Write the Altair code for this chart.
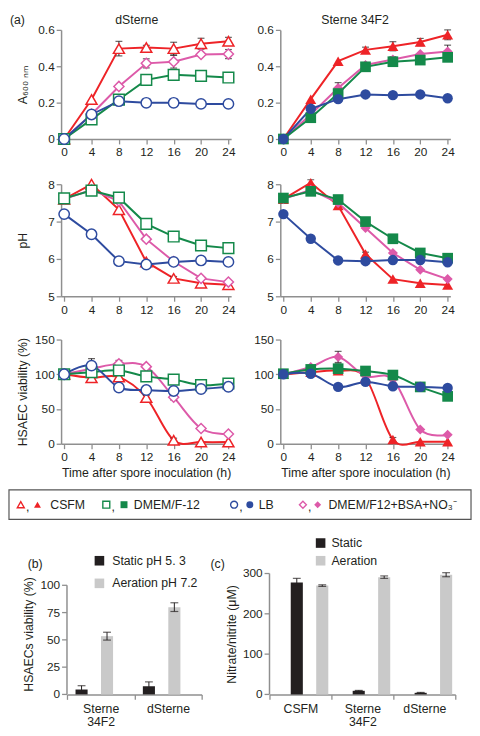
import altair as alt
import pandas as pd

FONT = "Liberation Sans"
INK = "#231f20"
AXIS_GREY = "#8f8f8f"

# ---------------- data ----------------
hours = [0, 4, 8, 12, 16, 20, 24]
media = ["CSFM", "DMEM/F-12", "LB", "DMEM/F12+BSA+NO₃⁻"]
media_colors = ["#ee2327", "#14894a", "#2e4b9f", "#dd5aa9"]
media_shapes = ["triangle-up", "square", "circle", "diamond"]
draw_order = ["CSFM", "DMEM/F12+BSA+NO₃⁻", "DMEM/F-12", "LB"]

# A600, dSterne
d_a600_csfm = [0, 0.217, 0.497, 0.503, 0.497, 0.524, 0.537]
d_a600_dmem = [0, 0.108, 0.217, 0.325, 0.353, 0.347, 0.338]
d_a600_lb = [0, 0.135, 0.208, 0.199, 0.199, 0.193, 0.193]
d_a600_bsa = [0, 0.136, 0.289, 0.416, 0.425, 0.465, 0.467]
d_a600_csfm_err = [0, 0, 0.04, 0.012, 0.035, 0.03, 0.022]
d_a600_dmem_err = [0, 0, 0, 0, 0, 0.025, 0]
d_a600_lb_err = [0, 0, 0, 0, 0, 0, 0]
d_a600_bsa_err = [0, 0, 0, 0.025, 0.035, 0, 0.025]

# A600, Sterne 34F2
s_a600_csfm = [0, 0.219, 0.428, 0.49, 0.51, 0.533, 0.573]
s_a600_dmem = [0, 0.117, 0.25, 0.397, 0.425, 0.434, 0.449]
s_a600_lb = [0, 0.166, 0.219, 0.245, 0.241, 0.245, 0.224]
s_a600_bsa = [0, 0.135, 0.28, 0.407, 0.437, 0.467, 0.481]
s_a600_csfm_err = [0, 0, 0, 0.015, 0.025, 0.02, 0.027]
s_a600_dmem_err = [0, 0, 0, 0.02, 0, 0, 0]
s_a600_lb_err = [0, 0, 0, 0, 0, 0, 0]
s_a600_bsa_err = [0, 0, 0.03, 0, 0.015, 0, 0.035]

# pH, dSterne
d_ph_csfm = [7.6, 8.0, 7.32, 5.92, 5.48, 5.35, 5.31]
d_ph_dmem = [7.62, 7.83, 7.64, 6.94, 6.6, 6.36, 6.29]
d_ph_lb = [7.2, 6.66, 5.94, 5.85, 5.92, 5.96, 5.92]
d_ph_bsa = [7.6, 7.85, 7.55, 6.53, 5.93, 5.48, 5.38]
d_ph_csfm_err = [0, 0, 0, 0, 0.05, 0, 0]
d_ph_dmem_err = [0, 0, 0, 0, 0, 0, 0]
d_ph_lb_err = [0, 0, 0, 0, 0, 0, 0]
d_ph_bsa_err = [0, 0, 0, 0.06, 0, 0, 0]

# pH, Sterne 34F2
s_ph_csfm = [7.6, 8.04, 7.43, 6.13, 5.46, 5.35, 5.3]
s_ph_dmem = [7.63, 7.81, 7.59, 7.0, 6.54, 6.16, 6.02]
s_ph_lb = [7.2, 6.54, 5.96, 5.94, 5.97, 5.97, 5.91]
s_ph_bsa = [7.6, 7.85, 7.5, 6.83, 6.16, 5.71, 5.46]
s_ph_csfm_err = [0, 0.08, 0, 0.05, 0, 0, 0]
s_ph_dmem_err = [0, 0, 0, 0, 0, 0, 0]
s_ph_lb_err = [0, 0, 0, 0, 0, 0, 0]
s_ph_bsa_err = [0, 0, 0, 0, 0, 0, 0]

# HSAEC viability, dSterne
d_v_csfm = [100, 95, 96, 66.5, 5, 2.5, 2.5]
d_v_dmem = [100, 103, 105.5, 97, 92.4, 84.4, 86.7]
d_v_lb = [100, 112.5, 81, 77.3, 76, 78.8, 82]
d_v_bsa = [100, 108, 115, 111, 67, 22, 14]
d_v_csfm_err = [0, 0, 0, 3, 3, 0, 0]
d_v_dmem_err = [0, 0, 0, 0, 0, 0, 0]
d_v_lb_err = [0, 10, 0, 0, 0, 0, 0]
d_v_bsa_err = [0, 0, 5, 3, 4, 0, 0]

# HSAEC viability, Sterne 34F2
s_v_csfm = [100, 103, 105, 95, 6, 3, 3]
s_v_dmem = [100.8, 107, 108, 104.7, 98.9, 81.8, 68.2]
s_v_lb = [100, 100.8, 81.8, 89, 82.8, 81.8, 80.4]
s_v_bsa = [100, 110.6, 125, 97.4, 92.5, 20.5, 13]
s_v_csfm_err = [0, 0, 0, 0, 3, 0, 0]
s_v_dmem_err = [0, 0, 7, 0, 0, 0, 0]
s_v_lb_err = [0, 0, 0, 0, 0, 5, 0]
s_v_bsa_err = [0, 0, 8, 0, 0, 0, 0]

# (b) HSAECs viability
b_strains = ["Sterne\n34F2", "dSterne"]
b_conds = ["Static pH 5. 3", "Aeration pH 7.2"]
b_static = [4.5, 7.5]
b_aeration = [53.4, 80]
b_static_err = [3.5, 4]
b_aeration_err = [3.6, 4]
b_yticks = [0, 25, 50, 75, 100]

# (c) Nitrate/nitrite
c_cats = ["CSFM", "Sterne\n34F2", "dSterne"]
c_conds = ["Static", "Aeration"]
c_static = [278, 9, 4]
c_aeration = [270, 291, 297]
c_static_err = [10, 1, 1]
c_aeration_err = [2, 3, 5]
c_yticks = [0, 100, 200, 300]
bar_colors = ["#231f20", "#c9c9c9"]

# ---------------- helpers ----------------
XDOM = [-0.45, 24.4]
PW = 173


def make_df(vals, errs):
    rows = []
    for m in draw_order:
        i = media.index(m)
        for h, v, e in zip(hours, vals[i], errs[i]):
            rows.append(dict(hour=h, medium=m, value=v, err=e, lo=v - e, hi=v + e))
    return pd.DataFrame(rows)


def text_layer(txt, x, y, align="left", size=12.5):
    return alt.Chart(pd.DataFrame({"t": [txt]})).mark_text(
        align=align, baseline="middle", fontSize=size, color=INK, font=FONT
    ).encode(text="t:N", x=alt.value(x), y=alt.value(y))


def line_panel(vals, errs, filled, ydom, yticks, yfmt, ytitle, interp, height,
               xtitle=None, texts=()):
    df = make_df(vals, errs)
    xaxis = alt.Axis(values=hours, title=xtitle, titlePadding=4, labelPadding=3, labelOverlap=False)
    yaxis = alt.Axis(values=yticks, format=yfmt, title=ytitle, minExtent=25,
                     maxExtent=25, titlePadding=7, labelOverlap=False)

    def X(f):
        return alt.X(f"{f}:Q", scale=alt.Scale(domain=XDOM, nice=False, zero=False), axis=xaxis)

    def Y(f):
        return alt.Y(f"{f}:Q", scale=alt.Scale(domain=ydom, nice=False, zero=False), axis=yaxis)

    col = alt.Color("medium:N", scale=alt.Scale(domain=media, range=media_colors), legend=None)
    shp = alt.Shape("medium:N", scale=alt.Scale(domain=media, range=media_shapes), legend=None)
    sz = alt.Size("medium:N", scale=alt.Scale(domain=media, range=[125, 105, 115, 80]), legend=None)
    base = alt.Chart(df)
    lines = base.mark_line(strokeWidth=2, interpolate=interp).encode(x=X("hour"), y=Y("value"), color=col)
    eb = base.transform_filter("datum.err > 0")
    rule = eb.mark_rule(color=INK, strokeWidth=1).encode(x=X("hour"), y=Y("lo"), y2="hi:Q")
    cap_hi = eb.mark_tick(orient="horizontal", color=INK, size=7, thickness=1.2).encode(x=X("hour"), y=Y("hi"))
    cap_lo = eb.mark_tick(orient="horizontal", color=INK, size=7, thickness=1.2).encode(x=X("hour"), y=Y("lo"))
    if filled:
        pts = base.mark_point(filled=True, opacity=1).encode(
            x=X("hour"), y=Y("value"), color=col, shape=shp, size=sz)
    else:
        pts = base.mark_point(filled=True, fill="white", opacity=1, strokeWidth=1.5).encode(
            x=X("hour"), y=Y("value"),
            stroke=alt.Stroke("medium:N", scale=alt.Scale(domain=media, range=media_colors), legend=None),
            shape=shp, size=sz)
    layers = [lines, rule, cap_hi, cap_lo, pts] + [text_layer(*t) for t in texts]
    return alt.layer(*layers).properties(width=PW, height=height)


def bar_panel(cats, conds, static, aer, static_err, aer_err, xrange, width, ymax, yticks,
              ytitle, yoffset, outer_pad, texts=(), legend_pos=()):
    rows = []
    for i, c in enumerate(cats):
        for cond, v, e in ((conds[0], static[i], static_err[i]), (conds[1], aer[i], aer_err[i])):
            rows.append(dict(cat=c, cond=cond, value=v, lo=v - e, hi=v + e))
    df = pd.DataFrame(rows)
    xaxis = alt.Axis(title=None, tickBand="extent", labelAngle=0, labelPadding=3,
                     labelExpr="split(datum.label, '\\n')", labelLineHeight=14,
                     labelFontSize=12.5)
    # y axis keeps only its title; its line, ticks and labels are drawn below from yticks
    yaxis = alt.Axis(title=ytitle, labels=False, ticks=False, domain=False,
                     minExtent=25, maxExtent=25, titlePadding=7, offset=yoffset)
    x = alt.X("cat:N", sort=cats, scale=alt.Scale(range=xrange, paddingInner=0, paddingOuter=0), axis=xaxis)
    xo = alt.XOffset("cond:N", sort=conds, scale=alt.Scale(paddingOuter=outer_pad, paddingInner=0.05))

    def Y(f):
        return alt.Y(f"{f}:Q", scale=alt.Scale(domain=[0, ymax], nice=False, zero=False),
                     axis=yaxis, stack=None)

    col = alt.Color("cond:N", scale=alt.Scale(domain=conds, range=bar_colors), legend=None)
    base = alt.Chart(df)
    bars = base.mark_bar(stroke=None).encode(x=x, xOffset=xo, y=Y("value"), color=col)
    rule = base.mark_rule(color=INK, strokeWidth=1).encode(x=x, xOffset=xo, y=Y("lo"), y2="hi:Q")
    cap_hi = base.mark_tick(color=INK, size=8, thickness=1.2).encode(x=x, xOffset=xo, y=Y("hi"))
    cap_lo = base.mark_tick(color=INK, size=8, thickness=1.2).encode(x=x, xOffset=xo, y=Y("lo"))
    x0 = xrange[0]
    axis_df = pd.DataFrame({"lo": [yticks[0]], "hi": [yticks[-1]]})
    tick_df = pd.DataFrame({"v": yticks})
    y_line = alt.Chart(axis_df).mark_rule(color=AXIS_GREY, strokeWidth=1.5).encode(
        x=alt.value(x0), y=Y("lo"), y2="hi:Q")
    y_ticks = alt.Chart(tick_df).mark_rule(color=AXIS_GREY, strokeWidth=1.3).encode(
        x=alt.value(x0 - 5), x2=alt.value(x0), y=Y("v"))
    y_labels = alt.Chart(tick_df).mark_text(align="right", baseline="middle", fontSize=12,
                                            font=FONT, color=INK).encode(
        x=alt.value(x0 - 7), y=Y("v"), text=alt.Text("v:Q", format="d"))
    layers = [bars, rule, cap_hi, cap_lo, y_line, y_ticks, y_labels]
    for cond, colr, (sx, sy, tx) in zip(conds, bar_colors, legend_pos):
        layers.append(alt.Chart(pd.DataFrame({"a": [0]})).mark_square(
            size=95, color=colr, opacity=1).encode(x=alt.value(sx), y=alt.value(sy)))
        layers.append(text_layer(cond, tx, sy))
    layers += [text_layer(*t) for t in texts]
    return alt.layer(*layers).properties(width=width, height=123)


def spacer(h, w=1):
    return alt.Chart(pd.DataFrame({"s": [0]})).mark_point(opacity=0).encode(
        x=alt.value(0), y=alt.value(0)).properties(width=w, height=h)


# ---------------- panels ----------------
d_a600 = [d_a600_csfm, d_a600_dmem, d_a600_lb, d_a600_bsa]
d_a600_e = [d_a600_csfm_err, d_a600_dmem_err, d_a600_lb_err, d_a600_bsa_err]
s_a600 = [s_a600_csfm, s_a600_dmem, s_a600_lb, s_a600_bsa]
s_a600_e = [s_a600_csfm_err, s_a600_dmem_err, s_a600_lb_err, s_a600_bsa_err]
d_ph = [d_ph_csfm, d_ph_dmem, d_ph_lb, d_ph_bsa]
d_ph_e = [d_ph_csfm_err, d_ph_dmem_err, d_ph_lb_err, d_ph_bsa_err]
s_ph = [s_ph_csfm, s_ph_dmem, s_ph_lb, s_ph_bsa]
s_ph_e = [s_ph_csfm_err, s_ph_dmem_err, s_ph_lb_err, s_ph_bsa_err]
d_v = [d_v_csfm, d_v_dmem, d_v_lb, d_v_bsa]
d_v_e = [d_v_csfm_err, d_v_dmem_err, d_v_lb_err, d_v_bsa_err]
s_v = [s_v_csfm, s_v_dmem, s_v_lb, s_v_bsa]
s_v_e = [s_v_csfm_err, s_v_dmem_err, s_v_lb_err, s_v_bsa_err]

XT = "Time after spore inoculation (h)"
r1l = line_panel(d_a600, d_a600_e, False, [0, 0.6], [0, 0.2, 0.4, 0.6], ".1~f", "A₆₀₀ ₙₘ", "linear", 111,
                 texts=[("(a)", -52, -10, "left"), ("dSterne", 77, -10, "center")])
r1r = line_panel(s_a600, s_a600_e, True, [0, 0.6], [0, 0.2, 0.4, 0.6], ".1~f", None, "linear", 111,
                 texts=[("Sterne 34F2", 76, -10, "center")])
r2l = line_panel(d_ph, d_ph_e, False, [5, 8], [5, 6, 7, 8], "d", "pH", "linear", 114)
r2r = line_panel(s_ph, s_ph_e, True, [5, 8], [5, 6, 7, 8], "d", None, "linear", 114)
r3l = line_panel(d_v, d_v_e, False, [0, 150], [0, 50, 100, 150], "d", "HSAEC viability (%)", "cardinal", 106, xtitle=XT)
r3r = line_panel(s_v, s_v_e, True, [0, 150], [0, 50, 100, 150], "d", None, "cardinal", 106, xtitle=XT)

# custom legend row
leg_open_x = [-41, 46, 176, 246]
leg_fill_x = [-24, 64, 192, 261]
leg_text_x = [-11, 74, 201, 272]
leg_df = pd.DataFrame({"medium": media, "ox": leg_open_x, "fx": leg_fill_x,
                       "cx": [a + 7 for a in leg_open_x], "tx": leg_text_x})
lshp = alt.Shape("medium:N", scale=alt.Scale(domain=media, range=media_shapes), legend=None)
lcol_scale = alt.Scale(domain=media, range=media_colors)
leg_base = alt.Chart(leg_df)
legend_row = alt.layer(
    alt.Chart(pd.DataFrame({"a": [0]})).mark_rect(fill="white", fillOpacity=0, stroke="#555555",
                                                   strokeWidth=1.2).encode(
        x=alt.value(-53), x2=alt.value(417), y=alt.value(0), y2=alt.value(30)),
    leg_base.mark_point(filled=True, fill="white", opacity=1, strokeWidth=1.4, size=50).encode(
        x=alt.X("ox:Q", scale=None), y=alt.value(15), shape=lshp,
        stroke=alt.Stroke("medium:N", scale=lcol_scale, legend=None)),
    leg_base.mark_point(filled=True, opacity=1, size=50).encode(
        x=alt.X("fx:Q", scale=None), y=alt.value(15), shape=lshp,
        color=alt.Color("medium:N", scale=lcol_scale, legend=None)),
    leg_base.mark_text(text=",", fontSize=12.5, font=FONT, color=INK, baseline="middle").encode(
        x=alt.X("cx:Q", scale=None), y=alt.value(17)),
    leg_base.mark_text(fontSize=12.5, font=FONT, color=INK, align="left", baseline="middle").encode(
        x=alt.X("tx:Q", scale=None), y=alt.value(15), text="medium:N"),
).properties(width=PW, height=30)

b_chart = bar_panel(b_strains, b_conds, b_static, b_aeration, b_static_err, b_aeration_err,
                    [6, 143], 144, 110.8, b_yticks, "HSAECs viability (%)", -6, 0.67,
                    texts=[("(b)", -34, -10, "left")],
                    legend_pos=[(39, -13, 52), (39, 10, 52)])
c_chart = bar_panel(c_cats, c_conds, c_static, c_aeration, c_static_err, c_aeration_err,
                    [-11, 178], 178, 300, c_yticks, "Nitrate/nitrite (μM)", 11, 0.75,
                    texts=[("(c)", -71, -10, "left")],
                    legend_pos=[(41, -31, 52), (41, -13, 52)])

cells = [r1l, r1r, spacer(46), spacer(46), r2l, r2r, spacer(44), spacer(44), r3l, r3r,
         spacer(47), spacer(47), legend_row, spacer(30), spacer(55), spacer(55), b_chart, c_chart]

chart = alt.concat(*cells, columns=2, spacing={"row": 0, "column": 50}, bounds="flush",
                   align="each").resolve_scale(color="independent").properties(padding=0).configure(
    font=FONT).configure_view(stroke=None).configure_axis(
    labelFont=FONT, titleFont=FONT, labelFontSize=12, titleFontSize=12.5, titleFontWeight="normal",
    labelColor=INK, titleColor=INK, domainColor=AXIS_GREY, tickColor=AXIS_GREY, domainWidth=1.5,
    tickWidth=1.3, tickSize=5, grid=False, labelFlush=False, labelOverlap=False)

chart.save("out.html", embed_options={"renderer": "svg", "actions": False})
